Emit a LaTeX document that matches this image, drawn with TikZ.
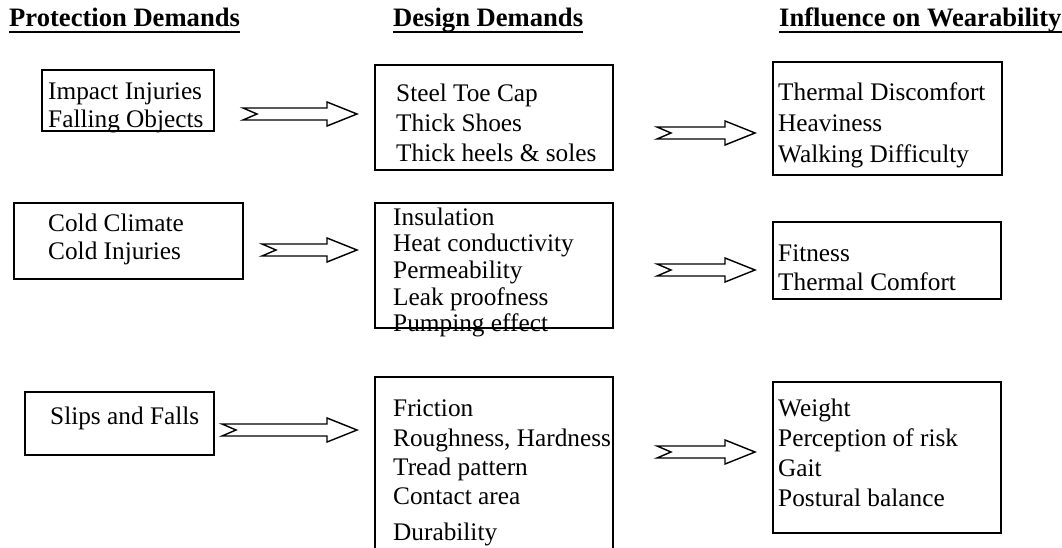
\documentclass[tikz,border=0pt]{standalone}
\usepackage{fontspec}
\setmainfont{Liberation Serif}
\usetikzlibrary{calc,fit}
\tikzset{
  box/.style={draw, line width=1.4pt, inner sep=0pt},
  txt/.style={anchor=base west, inner sep=0pt, font=\fontsize{25.3}{30}\selectfont},
  head/.style={anchor=base west, inner sep=0pt, font=\fontsize{26.6}{30}\selectfont\bfseries},
  fat/.style={draw, line width=1.4pt, fill=white, line join=miter},
}
% fat notched arrow between two named coordinates (same y)
\newcommand{\fatarrow}[2]{%
  \draw[fat] ($(#1)+(0,-6)$) -- ($(#2)+(-30,-6)$) -- ($(#2)+(-30,-12)$) -- (#2)
    -- ($(#2)+(-30,12)$) -- ($(#2)+(-30,6)$) -- ($(#1)+(0,6)$) -- ($(#1)+(14,0)$) -- cycle;}
\newcommand{\boxat}[5]{\path (#2,#3) coordinate (#1nw) (#4,#5) coordinate (#1se);
  \node[box, fit=(#1nw)(#1se)] (#1) {};}
\begin{document}
\begin{tikzpicture}[x=1pt,y=-1pt]
\useasboundingbox (0,0) rectangle (1062,548);
\clip (0,0) rectangle (1062,548);
% headers
\foreach \n/\x/\t in {h1/9/Protection Demands, h2/393/Design Demands, h3/779/Influence on Wearability}{
  \node[head] (\n) at (\x,27) {\t};
  \draw[line width=2pt] ($(\n.base west)+(0,5)$) -- ($(\n.base east)+(0,5)$);
}
% boxes
\boxat{a1}{42}{70}{214}{131}
\boxat{b1}{375}{65}{613}{170}
\boxat{c1}{773}{62}{1002}{175}
\boxat{a2}{14}{203}{243}{279}
\boxat{b2}{375}{203}{613}{328}
\boxat{c2}{773}{222}{1001}{299}
\boxat{a3}{25}{392}{214}{455}
\boxat{b3}{375}{377}{613}{570}
\boxat{c3}{773}{382}{1001}{533}
% texts
\foreach \t [count=\i from 0] in {Impact Injuries, Falling Objects}
  \node[txt] (a1t\i) at (48,100+28*\i) {\t};
\foreach \t [count=\i from 0] in {Steel Toe Cap, Thick Shoes, Thick heels \& soles}
  \node[txt] (b1t\i) at (396,102+30*\i) {\t};
\foreach \t [count=\i from 0] in {Thermal Discomfort, Heaviness, Walking Difficulty}
  \node[txt] (c1t\i) at (778,101+31*\i) {\t};
\foreach \t [count=\i from 0] in {Cold Climate, Cold Injuries}
  \node[txt] (a2t\i) at (48,231+28*\i) {\t};
\foreach \t/\y [count=\i from 0] in {Insulation/225, Heat conductivity/251, Permeability/278, Leak proofness/305, Pumping effect/331}
  \node[txt] (b2t\i) at (393,\y) {\t};
\foreach \t [count=\i from 0] in {Fitness, Thermal Comfort}
  \node[txt] (c2t\i) at (778,261+29*\i) {\t};
\node[txt] (a3t0) at (50,424) {Slips and Falls};
\foreach \t/\y [count=\i from 0] in {Friction/416, {Roughness, Hardness}/446, Tread pattern/475, Contact area/504, Durability/540}
  \node[txt] (b3t\i) at (393,\y) {\t};
\foreach \t [count=\i from 0] in {Weight, Perception of risk, Gait, Postural balance}
  \node[txt] (c3t\i) at (778,416+30*\i) {\t};
% arrows
\path (243,114) coordinate (p1s) (357,114) coordinate (p1e)
      (657,133) coordinate (p2s) (755,133) coordinate (p2e)
      (262,250) coordinate (p3s) (357,250) coordinate (p3e)
      (657,270) coordinate (p4s) (755,270) coordinate (p4e)
      (222,430) coordinate (p5s) (357,430) coordinate (p5e)
      (657,452) coordinate (p6s) (755,452) coordinate (p6e);
\fatarrow{p1s}{p1e}
\fatarrow{p2s}{p2e}
\fatarrow{p3s}{p3e}
\fatarrow{p4s}{p4e}
\fatarrow{p5s}{p5e}
\fatarrow{p6s}{p6e}
\end{tikzpicture}
\end{document}
